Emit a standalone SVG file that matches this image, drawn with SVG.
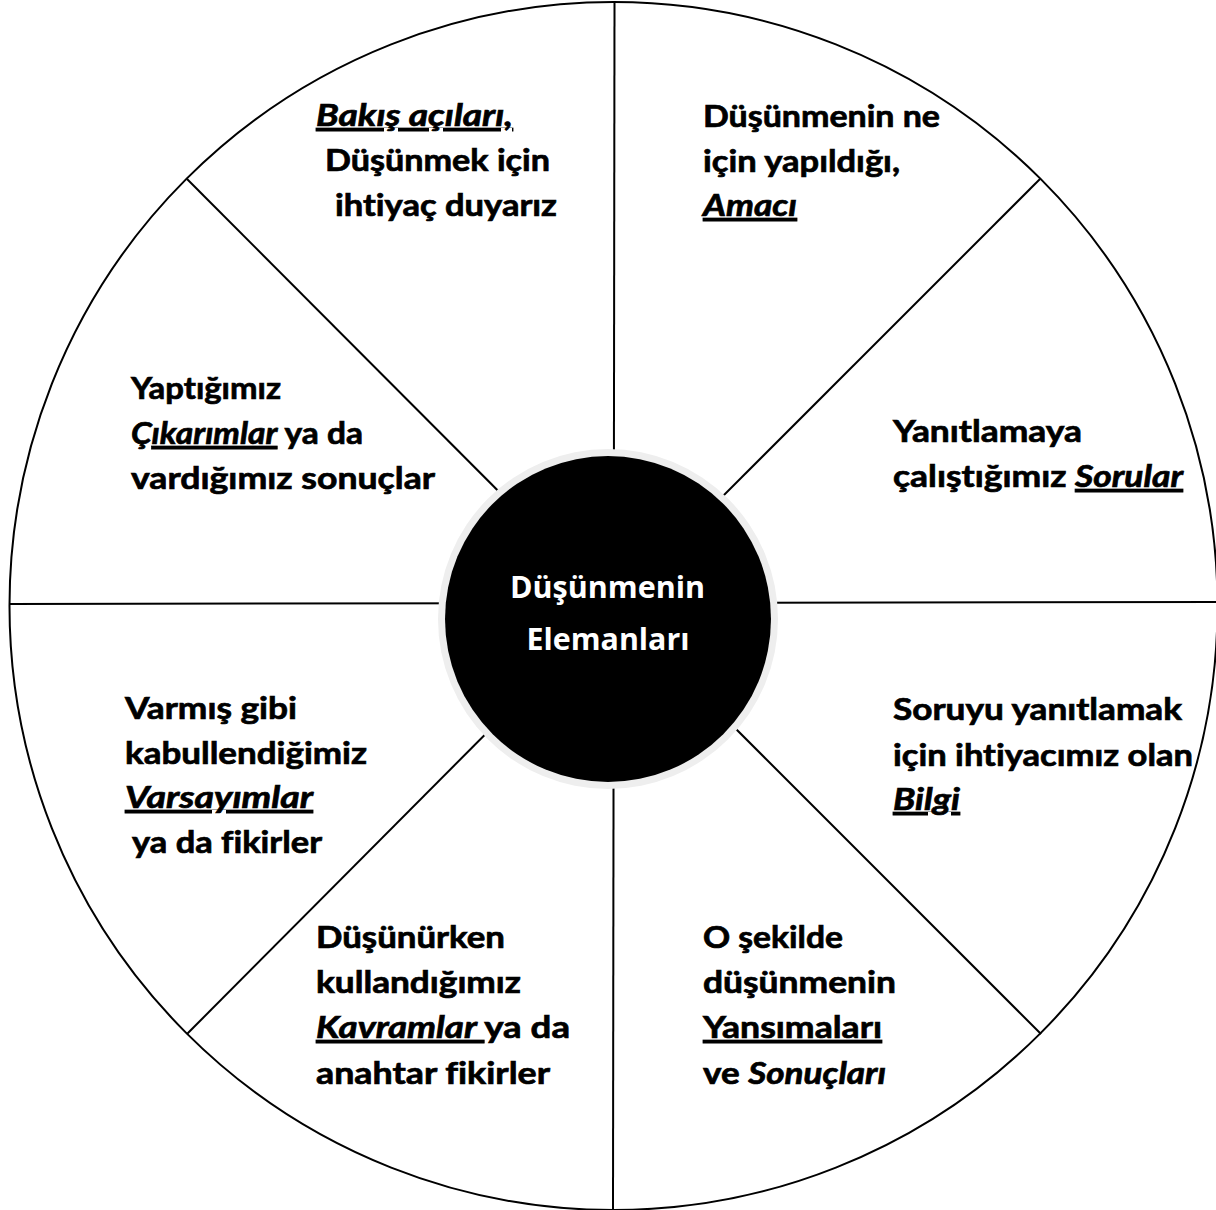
<svg xmlns="http://www.w3.org/2000/svg" width="1216" height="1210" viewBox="0 0 1216 1210">
<style>
.t{font-family:Lato,"Liberation Sans",sans-serif;font-weight:700;font-size:31px;fill:#000;stroke:#000;stroke-width:0.7;font-variant-ligatures:none}
.i{font-style:italic}
.u{text-decoration:underline}
.c{font-family:"Open Sans","Liberation Sans",sans-serif;font-weight:700;font-size:30px;fill:#fff;text-anchor:middle}
.ln{stroke:#000;stroke-width:2;fill:none}
</style>
<rect width="1216" height="1210" fill="#fff"/>
<g id="connectors">
<circle class="ln" cx="613.5" cy="606" r="604"/>
<line class="ln" x1="614.5" y1="2" x2="613" y2="1210"/>
<line class="ln" x1="10" y1="604" x2="1216" y2="602"/>
<line class="ln" x1="187" y1="179" x2="613" y2="606"/>
<line class="ln" x1="1040" y1="179" x2="613" y2="606"/>
<line class="ln" x1="187" y1="1034" x2="613" y2="606"/>
<line class="ln" x1="1041" y1="1034" x2="613" y2="606"/>
</g>
<g id="center">
<circle cx="608" cy="619" r="170" fill="#eeeeee"/>
<circle cx="608" cy="619" r="163" fill="#000"/>
<text class="c" x="607.5" y="598" textLength="195" lengthAdjust="spacingAndGlyphs">Düşünmenin</text>
<text class="c" x="608" y="650" textLength="163" lengthAdjust="spacingAndGlyphs">Elemanları</text>
</g>
<g id="bakis">
<text class="t" x="316" y="126" textLength="197" lengthAdjust="spacingAndGlyphs"><tspan class="i u">Bakış açıları,</tspan></text>
<text class="t" x="325" y="171" textLength="225" lengthAdjust="spacingAndGlyphs">Düşünmek için</text>
<text class="t" x="335" y="216" textLength="222" lengthAdjust="spacingAndGlyphs">ihtiyaç duyarız</text>
</g>
<g id="amac">
<text class="t" x="703" y="127" textLength="237" lengthAdjust="spacingAndGlyphs">Düşünmenin ne</text>
<text class="t" x="703" y="172" textLength="197" lengthAdjust="spacingAndGlyphs">için yapıldığı,</text>
<text class="t" x="703" y="216" textLength="94" lengthAdjust="spacingAndGlyphs"><tspan class="i u">Amacı</tspan></text>
</g>
<g id="cikarim">
<text class="t" x="131" y="399" textLength="150" lengthAdjust="spacingAndGlyphs">Yaptığımız</text>
<text class="t" x="131" y="444" textLength="232" lengthAdjust="spacingAndGlyphs"><tspan class="i">Ç</tspan><tspan class="i u">ıkarımlar</tspan> ya da</text>
<text class="t" x="131" y="489" textLength="304" lengthAdjust="spacingAndGlyphs">vardığımız sonuçlar</text>
</g>
<g id="soru">
<text class="t" x="893" y="442" textLength="189" lengthAdjust="spacingAndGlyphs">Yanıtlamaya</text>
<text class="t" x="893" y="487" textLength="290" lengthAdjust="spacingAndGlyphs">çalıştığımız <tspan class="i u">Sorular</tspan></text>
</g>
<g id="varsayim">
<text class="t" x="125" y="719" textLength="172" lengthAdjust="spacingAndGlyphs">Varmış gibi</text>
<text class="t" x="125" y="764" textLength="242" lengthAdjust="spacingAndGlyphs">kabullendiğimiz</text>
<text class="t" x="125" y="808" textLength="188" lengthAdjust="spacingAndGlyphs"><tspan class="i u">Varsayımlar</tspan></text>
<text class="t" x="132" y="853" textLength="190" lengthAdjust="spacingAndGlyphs">ya da fikirler</text>
</g>
<g id="bilgi">
<text class="t" x="893" y="720" textLength="289" lengthAdjust="spacingAndGlyphs">Soruyu yanıtlamak</text>
<text class="t" x="893" y="766" textLength="300" lengthAdjust="spacingAndGlyphs">için ihtiyacımız olan</text>
<text class="t" x="893" y="810" textLength="67" lengthAdjust="spacingAndGlyphs"><tspan class="i u">Bilgi</tspan></text>
</g>
<g id="kavram">
<text class="t" x="316" y="948" textLength="189" lengthAdjust="spacingAndGlyphs">Düşünürken</text>
<text class="t" x="316" y="993" textLength="205" lengthAdjust="spacingAndGlyphs">kullandığımız</text>
<text class="t" x="316" y="1038" textLength="254" lengthAdjust="spacingAndGlyphs"><tspan class="i u">Kavramlar </tspan>ya da</text>
<text class="t" x="316" y="1084" textLength="234" lengthAdjust="spacingAndGlyphs">anahtar fikirler</text>
</g>
<g id="sonuc">
<text class="t" x="703" y="948" textLength="140" lengthAdjust="spacingAndGlyphs">O şekilde</text>
<text class="t" x="703" y="993" textLength="193" lengthAdjust="spacingAndGlyphs">düşünmenin</text>
<text class="t" x="703" y="1038" textLength="179" lengthAdjust="spacingAndGlyphs"><tspan class="u">Yansımaları</tspan></text>
<text class="t" x="703" y="1084" textLength="183" lengthAdjust="spacingAndGlyphs">ve <tspan class="i">Sonuçları</tspan></text>
</g>
</svg>
